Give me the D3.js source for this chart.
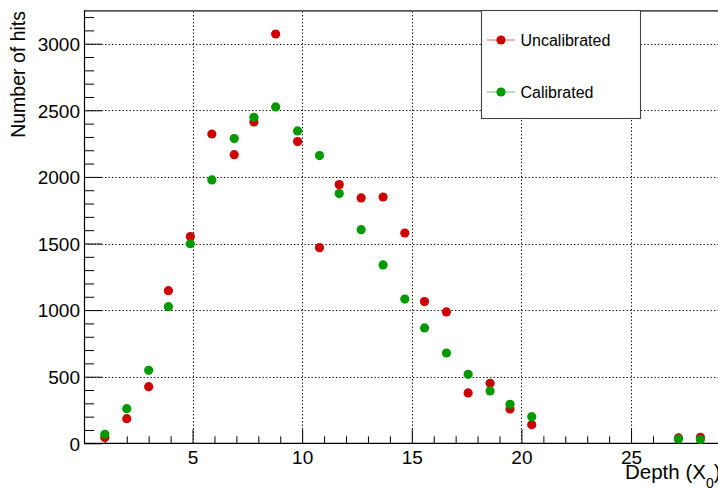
<!DOCTYPE html>
<html>
<head>
<meta charset="utf-8">
<script src="https://cdn.jsdelivr.net/npm/d3@7"></script>
<style>
  html, body { margin: 0; padding: 0; background: #fff; }
  svg { display: block; font-family: "Liberation Sans", Arial, Helvetica, sans-serif; }
</style>
</head>
<body>
<svg id="chart" width="718" height="488"></svg>
<script>
// Layer depth in radiation lengths
const depth = [1.0, 2.0, 3.0, 3.9, 4.9, 5.88, 6.9, 7.8, 8.79, 9.79, 10.79, 11.69,
               12.69, 13.69, 14.68, 15.58, 16.58, 17.57, 18.57, 19.48, 20.47, 27.16, 28.16];
// Hits per layer
const uncalibrated = [43, 185, 425, 1146, 1552, 2322, 2167, 2412, 3073, 2265, 1469, 1942,
                      1842, 1849, 1579, 1064, 986, 378, 450, 258, 140, 40, 45];
const calibrated = [68, 260, 548, 1026, 1499, 1977, 2288, 2448, 2525, 2345, 2160, 1875,
                    1604, 1339, 1083, 866, 678, 518, 393, 293, 200, 32, 28];
const seriesNames = ["Uncalibrated", "Calibrated"];
const seriesColors = ["#cc0000", "#009900"];
const xMajorTicks = [5, 10, 15, 20, 25];
const yMajorTicks = [0, 500, 1000, 1500, 2000, 2500, 3000];

const svg = d3.select("#chart");

const x = d3.scaleLinear().domain([0.05, 30]).range([84, 740.7]);
const y = d3.scaleLinear().domain([0, 3250]).range([443.3, 10.4]);

const xLeft = 84, xRight = 740.7, yBottom = 443.3, yTop = 10.4;

// Dotted grid at major ticks
const grid = svg.append("g").attr("stroke", "#000").attr("stroke-width", 1)
  .attr("stroke-dasharray", "1.3,2.2").attr("fill", "none");
grid.selectAll("line.gx").data(xMajorTicks).join("line")
  .attr("x1", d => Math.round(x(d)) + 0.5).attr("x2", d => Math.round(x(d)) + 0.5)
  .attr("y1", yBottom).attr("y2", yTop);
grid.selectAll("line.gy").data(yMajorTicks.filter(d => d > 0)).join("line")
  .attr("x1", xLeft).attr("x2", xRight)
  .attr("y1", d => Math.round(y(d)) + 0.5).attr("y2", d => Math.round(y(d)) + 0.5);

// Frame top
svg.append("line").attr("x1", xLeft).attr("x2", xRight)
  .attr("y1", yTop + 0.5).attr("y2", yTop + 0.5)
  .attr("stroke", "#555").attr("stroke-width", 1.6);

// Y axis: minor ticks every 100, major every 500
const yAxis = d3.axisRight(y)
  .tickValues(d3.range(0, 3201, 100))
  .tickSize(0)
  .tickFormat("");
const yg = svg.append("g").attr("transform", `translate(${xLeft},0)`).call(yAxis);
yg.select(".domain").remove();
yg.selectAll(".tick line")
  .attr("x2", d => (d % 500 === 0 ? 18 : 10))
  .attr("stroke", "#000").attr("stroke-width", 1);
yg.selectAll(".tick").filter(d => d % 500 === 0).append("text")
  .attr("x", -4).attr("dy", "0.36em")
  .attr("text-anchor", "end").attr("fill", "#000")
  .style("font-size", "19px")
  .text(d => d);
svg.append("line").attr("x1", xLeft + 0.5).attr("x2", xLeft + 0.5)
  .attr("y1", yBottom).attr("y2", yTop).attr("stroke", "#000").attr("stroke-width", 1.2);

// X axis: minor ticks every 1, major every 5
const xAxis = d3.axisTop(x)
  .tickValues(d3.range(1, 30, 1))
  .tickSize(0)
  .tickFormat("");
const xg = svg.append("g").attr("transform", `translate(0,${yBottom})`).call(xAxis);
xg.select(".domain").remove();
xg.selectAll(".tick line")
  .attr("y2", d => (d % 5 === 0 ? -14 : -7))
  .attr("stroke", "#000").attr("stroke-width", 1);
xg.selectAll(".tick").filter(d => d % 5 === 0).append("text")
  .attr("y", 20.5).attr("text-anchor", "middle").attr("fill", "#000")
  .style("font-size", "19px")
  .text(d => d);
svg.append("line").attr("x1", xLeft).attr("x2", xRight)
  .attr("y1", yBottom).attr("y2", yBottom).attr("stroke", "#000").attr("stroke-width", 1.3);

// Axis titles
svg.append("text")
  .attr("transform", "translate(25,11) rotate(-90)")
  .attr("text-anchor", "end").style("font-size", "19.5px").attr("fill", "#000")
  .text("Number of hits");
const xt = svg.append("text").attr("x", 625).attr("y", 478.5)
  .style("font-size", "20.5px").attr("fill", "#000");
xt.append("tspan").text("Depth (X");
xt.append("tspan").attr("dy", 9).style("font-size", "14px").text("0");
xt.append("tspan").attr("dy", -9).text(")");

// Markers
const series = [uncalibrated, calibrated];
series.forEach((vals, i) => {
  svg.append("g").selectAll("circle").data(vals).join("circle")
    .attr("cx", (d, j) => x(depth[j]))
    .attr("cy", d => y(d))
    .attr("r", 4.6)
    .attr("fill", seriesColors[i]);
});

// Legend
const leg = svg.append("g");
leg.append("rect").attr("x", 481.5).attr("y", 10.5).attr("width", 159).attr("height", 108)
  .attr("fill", "#fff").attr("stroke", "#444").attr("stroke-width", 1.1);
const legRows = [40, 92];
seriesNames.forEach((name, i) => {
  const g = leg.append("g").attr("transform", `translate(0,${legRows[i]})`);
  g.append("line").attr("x1", 487).attr("x2", 515).attr("y1", 0).attr("y2", 0)
    .attr("stroke", seriesColors[i]).attr("stroke-opacity", 0.6).attr("stroke-width", 1);
  g.append("circle").attr("cx", 501).attr("cy", 0).attr("r", 4.6).attr("fill", seriesColors[i]);
  g.append("text").attr("x", 520.5).attr("y", 0).attr("dy", "0.36em")
    .style("font-size", "16px").attr("fill", "#000").text(name);
});
</script>
</body>
</html>
